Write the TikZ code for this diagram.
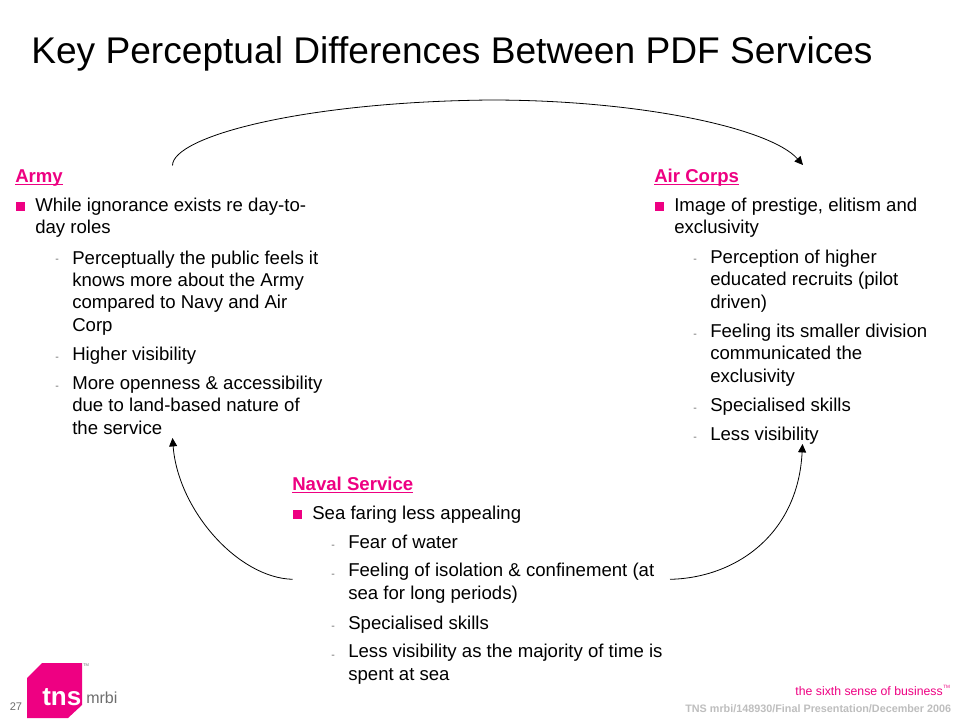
\documentclass[tikz,border=0pt]{standalone}
\usepackage{fontspec}
\setmainfont{Liberation Sans}
\usetikzlibrary{arrows.meta}
\definecolor{tnspink}{RGB}{238,0,130}
\definecolor{footgrey}{RGB}{190,190,190}
\definecolor{numgrey}{RGB}{110,110,110}
\newcommand\pdfuline[1]{\setbox0\hbox{#1}\rlap{\rule[-1.9pt]{\wd0}{0.95pt}}\box0}
\tikzset{
  x=0.75pt,y=-0.75pt,
  para/.style={anchor=base west,inner sep=0pt,align=left,text=black,font=\fontsize{13.95}{16.75}\selectfont},
  head/.style={para,text=tnspink,font=\fontsize{13.95}{16.75}\selectfont\bfseries},
  sq/.style={fill=tnspink,draw=none,minimum size=6.7pt,inner sep=0pt,anchor=center},
  dashmark/.style={anchor=base west,inner sep=0pt,text=numgrey,font=\fontsize{8}{10}\selectfont},
  curve/.style={draw=black,line width=0.6pt,-{Triangle[length=6.3pt,width=6pt]}}
}
\begin{document}
\begin{tikzpicture}
\useasboundingbox (0,0) rectangle (960,720);
\fill[white] (0,0) rectangle (960,720);
\node[anchor=base west,inner sep=0pt,font=\fontsize{27.85}{32}\selectfont] (title) at (31,63.5) {Key Perceptual Differences Between PDF Services};

% Army
\node[head] (armyh) at (15,182.5) {\pdfuline{Army}};
\node[sq] (armys) at (20.5,206.7) {};
\node[para] (army1) at (35,233.5) {While ignorance exists re day-to-\\day roles};
\node[dashmark] (armyd1) at (55,263) {-};
\node[para] (army2) at (72,331) {Perceptually the public feels it\\knows more about the Army\\compared to Navy and Air\\Corp};
\node[dashmark] (armyd2) at (55,360) {-};
\node[para] (army3) at (72,360.5) {Higher visibility};
\node[dashmark] (armyd3) at (55,389) {-};
\node[para] (army4) at (72,434) {More openness \& accessibility\\due to land-based nature of\\the service};

% Air Corps
\node[head] (airh) at (654,182.5) {\pdfuline{Air Corps}};
\node[sq] (airs) at (659.5,206.7) {};
\node[para] (air1) at (674,233.5) {Image of prestige, elitism and\\exclusivity};
\node[dashmark] (aird1) at (693,263) {-};
\node[para] (air2) at (710,308) {Perception of higher\\educated recruits (pilot\\driven)};
\node[dashmark] (aird2) at (693,337) {-};
\node[para] (air3) at (710,382) {Feeling its smaller division\\communicated the\\exclusivity};
\node[dashmark] (aird3) at (693,411) {-};
\node[para] (air4) at (710,411) {Specialised skills};
\node[dashmark] (aird4) at (693,440) {-};
\node[para] (air5) at (710,440) {Less visibility};

% Naval
\node[head] (navh) at (292,490.5) {\pdfuline{Naval Service}};
\node[sq] (navs) at (297.5,514.7) {};
\node[para] (nav1) at (312,519) {Sea faring less appealing};
\node[dashmark] (navd1) at (331,548) {-};
\node[para] (nav2) at (348,548) {Fear of water};
\node[dashmark] (navd2) at (331,577) {-};
\node[para] (nav3) at (348,599.3) {Feeling of isolation \& confinement (at\\sea for long periods)};
\node[dashmark] (navd3) at (331,629) {-};
\node[para] (nav4) at (348,629) {Specialised skills};
\node[dashmark] (navd4) at (331,658) {-};
\node[para] (nav5) at (348,680.3) {Less visibility as the majority of time is\\spent at sea};

% connectors
\coordinate (armytop) at (172.5,165.5);
\coordinate (airtop) at (803,165);
\coordinate (armybot) at (172.5,438);
\coordinate (airbot) at (802.5,444);
\coordinate (navl) at (292.7,579.3);
\coordinate (navr) at (670,579.3);
\coordinate (archtop) at (490,100);
\draw[curve] (armytop) .. controls (172.5,137) and (300,102) .. (archtop) .. controls (640,100) and (770,128) .. (airtop);
\draw[curve] (navl) .. controls (238,578) and (178,510) .. (armybot);
\draw[curve] (navr) .. controls (735,578) and (798,535) .. (airbot);

% footer
\node[anchor=base west,inner sep=0pt,text=numgrey,font=\fontsize{8.3}{10}\selectfont] (pageno) at (9.5,710) {27};
\fill[tnspink] (42,663) -- (82,663) -- (82,705) -- (68,718) -- (27,718) -- (27,678) -- cycle;
\node[anchor=base west,inner sep=0pt,text=white,font=\fontsize{19.5}{24}\selectfont\bfseries] (tns) at (42,705) {tns};
\node[anchor=base west,inner sep=0pt,text=numgrey,font=\fontsize{12}{14}\selectfont] (mrbi) at (86,703.5) {mrbi};
\node[anchor=base west,inner sep=0pt,text=numgrey,font=\fontsize{3}{4}\selectfont] (tm) at (83,666) {TM};
\node[anchor=base east,inner sep=0pt,text=tnspink,font=\fontsize{9.2}{11}\selectfont] (sixth) at (943,695.5) {the sixth sense of business};
\node[anchor=base west,inner sep=0pt,text=tnspink,font=\fontsize{3.5}{4}\selectfont] (tm2) at (943,688) {TM};
\node[anchor=base east,inner sep=0pt,text=footgrey,font=\fontsize{8.1}{9}\selectfont\bfseries] (foot) at (951.5,712) {TNS mrbi/148930/Final Presentation/December 2006};
\end{tikzpicture}
\end{document}
